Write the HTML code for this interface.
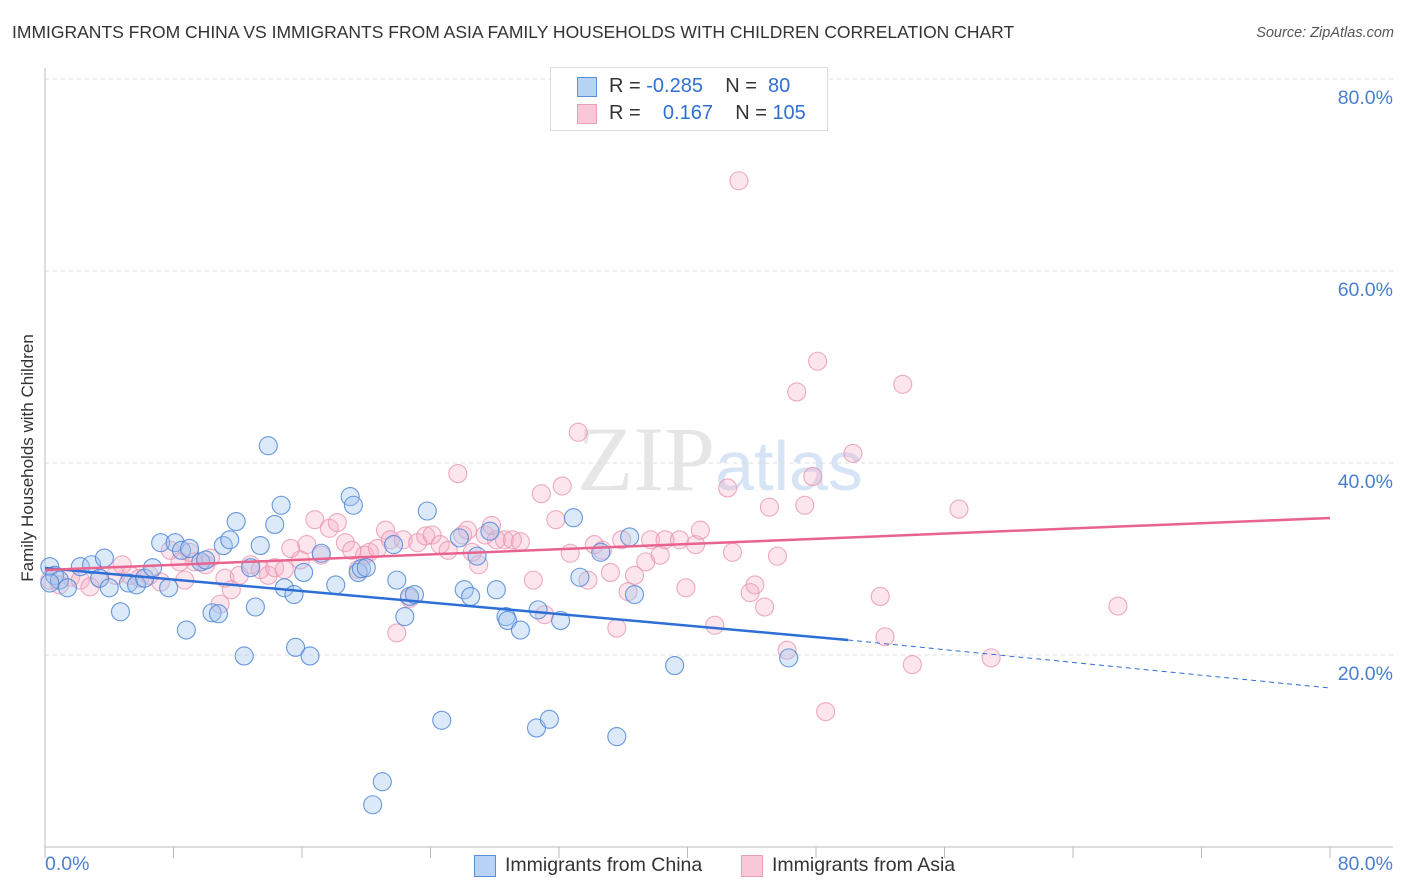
<!DOCTYPE html>
<html><head><meta charset="utf-8"><style>
body{margin:0;background:#fff;font-family:"Liberation Sans",sans-serif;}
#wrap{position:relative;width:1406px;height:892px;overflow:hidden;}
.t{position:absolute;white-space:nowrap;}
</style></head><body>
<div id="wrap">
<div class="t" style="left:12px;top:22px;font-size:17.5px;color:#333;">IMMIGRANTS FROM CHINA VS IMMIGRANTS FROM ASIA FAMILY HOUSEHOLDS WITH CHILDREN CORRELATION CHART</div>
<div class="t" style="right:12px;top:25px;font-size:14.5px;color:#555;font-style:italic;">Source: ZipAtlas.com</div>
<div class="t" style="left:28px;top:458px;font-size:17px;color:#333;transform:translate(-50%,-50%) rotate(-90deg);">Family Households with Children</div>
<svg id="chart" width="1406" height="892" style="position:absolute;left:0;top:0"></svg>
<div style="position:absolute;left:550px;top:67px;width:276px;height:62px;border:1px solid #ddd;background:#fff;font-size:20px;">
 <div style="position:absolute;left:26px;top:9px;width:18px;height:18px;background:#b8d3f5;border:1px solid #5b8fd8;"></div>
 <div class="t" style="left:58px;top:7px;color:#333;">R = <span style="color:#2f6fd0">-0.285</span>&nbsp;&nbsp;&nbsp; N = &nbsp;<span style="color:#2f6fd0">80</span></div>
 <div style="position:absolute;left:26px;top:36px;width:18px;height:18px;background:#f8c8d8;border:1px solid #e8a0b8;"></div>
 <div class="t" style="left:58px;top:34px;color:#333;">R = &nbsp;&nbsp; <span style="color:#2f6fd0">0.167</span>&nbsp;&nbsp;&nbsp; N = <span style="color:#2f6fd0">105</span></div>
</div>
<div style="position:absolute;left:474px;top:855px;font-size:19.5px;color:#333;">
 <div style="position:absolute;left:0;top:0;width:20px;height:20px;background:#b8d3f5;border:1px solid #5b8fd8;"></div>
 <div class="t" style="left:31px;top:-1px;">Immigrants from China</div></div>
<div style="position:absolute;left:741px;top:855px;font-size:19.5px;color:#333;">
 <div style="position:absolute;left:0;top:0;width:20px;height:20px;background:#f8c8d8;border:1px solid #e8a0b8;"></div>
 <div class="t" style="left:31px;top:-1px;">Immigrants from Asia</div></div>
</div>
<script>
const chinaX=[0.3,0.6,0.9,1.4,2.2,2.9,3.7,3.4,4.0,4.7,5.2,5.7,6.2,6.7,7.2,7.7,8.1,8.5,8.8,9.0,9.7,10.0,10.4,10.8,11.1,11.5,11.9,12.4,12.8,13.1,13.4,14.3,14.7,14.9,15.5,15.6,16.1,16.5,17.2,18.1,19.0,19.2,19.5,19.7,20.0,20.4,21.0,21.7,21.9,22.4,22.7,23.0,23.8,24.7,25.8,26.1,26.5,26.9,27.7,28.1,28.7,28.8,29.6,30.6,30.7,31.4,32.1,32.9,33.3,34.6,35.6,36.4,36.7,39.2,46.3,13.9,0.3];
const chinaY=[29.2,28.3,27.8,27.0,29.2,29.4,30.1,28.0,27.0,24.5,27.5,27.3,28.0,29.1,31.7,27.0,31.7,30.9,22.6,31.1,29.7,29.9,24.4,24.3,31.4,32.0,33.9,19.9,29.1,25.0,31.4,33.6,35.6,27.0,26.3,20.8,28.6,19.9,30.6,27.3,36.5,35.6,28.6,29.0,29.1,4.4,6.8,31.5,27.8,24.0,26.1,26.3,35.0,13.2,32.2,26.8,26.1,30.3,32.9,26.8,24.0,23.6,22.6,12.4,24.7,13.3,23.6,34.3,28.1,30.7,11.5,32.3,26.3,18.9,19.7,41.8,27.5];
const asiaX=[0.3,0.9,1.6,2.2,2.8,3.4,4.4,4.8,5.3,5.9,6.5,7.2,7.8,8.4,8.7,9.0,9.3,10.0,10.3,10.9,11.2,11.6,12.1,12.8,13.4,13.9,14.3,14.9,15.3,15.9,16.3,16.8,17.2,17.7,18.2,18.7,19.1,19.5,19.9,20.2,20.7,21.2,21.5,21.9,22.3,22.7,23.2,23.7,24.1,24.6,25.1,25.7,26.0,26.3,26.6,27.0,27.4,27.8,28.1,28.6,29.1,29.6,30.4,30.9,31.1,31.8,32.2,32.7,33.2,33.8,34.2,34.7,35.2,35.6,35.9,36.3,36.7,37.4,37.7,38.3,38.6,39.5,39.9,40.5,40.8,41.7,42.5,42.8,43.2,43.9,44.2,44.8,45.1,45.6,46.2,46.8,47.3,47.8,48.1,48.6,50.3,52.0,52.3,53.4,54.0,56.9,58.9,66.8];
const asiaY=[27.8,27.3,28.1,27.8,27.1,28.0,28.3,29.4,28.3,28.0,28.3,27.6,30.9,29.7,27.8,30.7,29.7,29.4,30.1,25.3,28.0,26.8,28.3,29.4,28.9,28.3,29.1,28.9,31.1,29.9,31.5,34.1,30.4,33.2,33.8,31.7,30.9,28.9,30.4,30.7,31.1,33.0,32.0,22.3,32.0,25.9,31.7,32.4,32.5,31.5,30.9,38.9,32.5,33.0,30.7,29.4,32.5,33.5,32.0,32.0,32.0,31.8,27.8,36.8,24.2,34.1,37.6,30.6,43.2,27.8,31.5,30.9,28.6,22.8,32.0,26.6,28.3,29.7,32.0,30.4,32.0,32.0,27.0,31.5,33.0,23.1,37.4,30.7,69.4,26.5,27.3,25.0,35.4,30.3,20.5,47.4,35.6,38.6,50.6,14.1,41.0,26.1,21.9,48.2,19.0,35.2,19.7,25.1];
const yTicks=[20,40,60,80];
const yTickLabels=["20.0%","40.0%","60.0%","80.0%"];
const chinaTrend=[[0,29.06],[50,21.56],[80,16.56]];
const asiaTrend=[[0,28.85],[80,34.27]];

const NS="http://www.w3.org/2000/svg";
const svg=document.getElementById('chart');
const X0=45,X1=1330,Y0=847,YTOP=79;
const sx=v=>X0+v/80*(X1-X0);
const sy=v=>Y0-v/80*(Y0-YTOP);
function mk(tag,attrs,parent){const e=document.createElementNS(NS,tag);for(const k in attrs)e.setAttribute(k,attrs[k]);(parent||svg).appendChild(e);return e;}

let wm=mk('text',{x:720,y:490,'text-anchor':'middle','font-size':92,'font-family':'Liberation Serif, serif',fill:'#e6e6e6'});


wm.innerHTML='ZIP<tspan fill="#d6e4f5" font-family="Liberation Sans, sans-serif" font-size="70">atlas</tspan>';

yTicks.forEach((t,i)=>{
 const g=mk('line',{x1:X0,x2:1393,y1:sy(t),y2:sy(t),stroke:'#ddd','stroke-dasharray':'4,4'});
 
 
 const l=mk('text',{x:1393,y:sy(t)+25,'text-anchor':'end','font-size':19.5,fill:'#4a7fd0','font-family':'Liberation Sans, sans-serif'});
 
 
 l.textContent=yTickLabels[i];
});
let ax=mk('line',{x1:X0,x2:X0,y1:68,y2:Y0,stroke:'#bbb'});


let bx=mk('line',{x1:X0,x2:1393,y1:Y0,y2:Y0,stroke:'#bbb'});


for(let i=0;i<=10;i++){
 const tk=mk('line',{x1:sx(i*8),x2:sx(i*8),y1:Y0,y2:Y0+11,stroke:'#bbb'});
 
 
}
let xl=mk('text',{x:X0,y:870,'font-size':19.5,fill:'#4a7fd0','font-family':'Liberation Sans, sans-serif'});


xl.textContent='0.0%';
let xr=mk('text',{x:1393,y:870,'text-anchor':'end','font-size':19.5,fill:'#4a7fd0','font-family':'Liberation Sans, sans-serif'});


xr.textContent='80.0%';

asiaX.forEach((x,i)=>{
 const c=mk('circle',{cx:sx(x),cy:sy(asiaY[i]),r:9,fill:'rgba(246,170,196,0.3)',stroke:'rgba(232,150,178,0.8)','stroke-width':1.1});
 
 
});
chinaX.forEach((x,i)=>{
 const c=mk('circle',{cx:sx(x),cy:sy(chinaY[i]),r:9,fill:'rgba(160,196,240,0.38)',stroke:'rgba(80,135,215,0.85)','stroke-width':1.1});
 
 
});
let bl=mk('line',{x1:sx(chinaTrend[0][0]),y1:sy(chinaTrend[0][1]),x2:sx(chinaTrend[1][0]),y2:sy(chinaTrend[1][1]),stroke:'#2e6fd6','stroke-width':2.5});


let bd=mk('line',{x1:sx(chinaTrend[1][0]),y1:sy(chinaTrend[1][1]),x2:sx(chinaTrend[2][0]),y2:sy(chinaTrend[2][1]),stroke:'#2e6fd6','stroke-width':1,'stroke-dasharray':'5,4'});


let pl=mk('line',{x1:sx(asiaTrend[0][0]),y1:sy(asiaTrend[0][1]),x2:sx(asiaTrend[1][0]),y2:sy(asiaTrend[1][1]),stroke:'#e8638e','stroke-width':2.5});


</script>
</body></html>
